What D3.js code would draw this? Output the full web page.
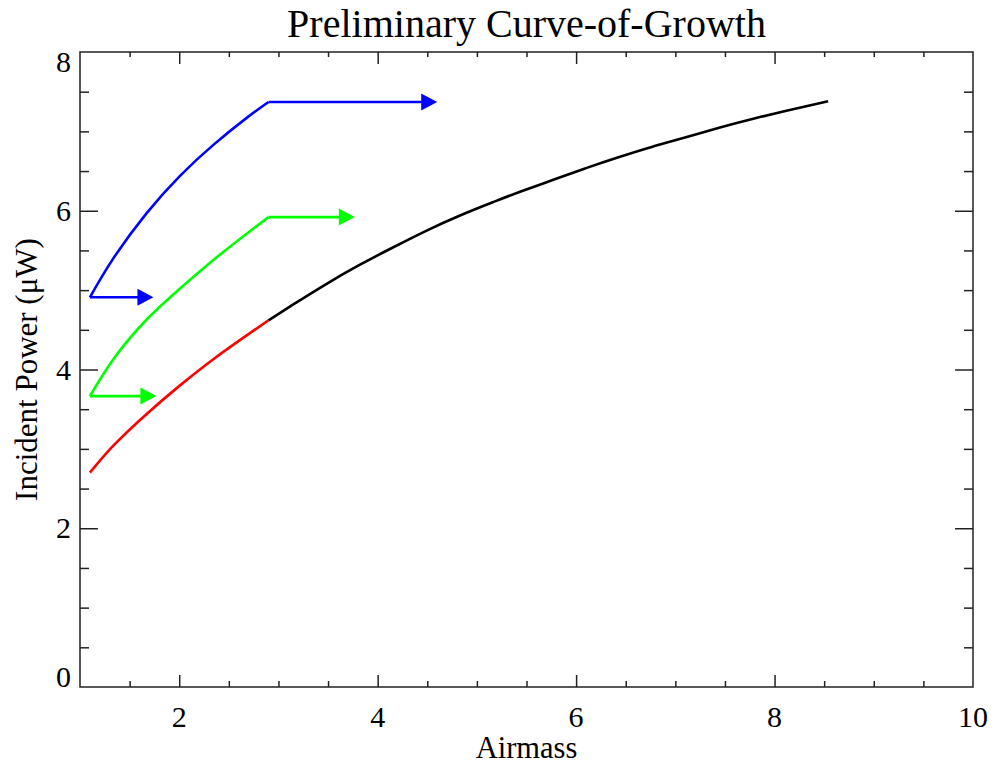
<!DOCTYPE html>
<html>
<head>
<meta charset="utf-8">
<script src="https://cdn.jsdelivr.net/npm/d3@7"></script>
<style>
  html, body { margin: 0; padding: 0; background: #fff; }
  svg { display: block; }
  text { font-family: "Liberation Serif", "Times New Roman", serif; fill: #000; }
</style>
</head>
<body>
<svg id="chart" width="995" height="766"></svg>
<script>
// Curve of growth: incident power vs. airmass
const redAirmass   = [1.10, 1.336, 1.672, 2.008, 2.344, 2.68, 2.90];
const redPower     = [2.70, 3.04, 3.44, 3.80, 4.13, 4.43, 4.62];

const blackAirmass = [2.90, 3.15, 3.486, 3.822, 4.158, 4.494, 4.83, 5.166, 5.435, 5.77, 6.107, 6.442, 6.778, 7.115, 7.45, 7.786, 8.12, 8.54];
const blackPower   = [4.62, 4.82, 5.08, 5.32, 5.54, 5.75, 5.94, 6.11, 6.24, 6.39, 6.54, 6.68, 6.81, 6.93, 7.05, 7.16, 7.26, 7.38];

const greenAirmass = [1.10, 1.336, 1.672, 2.008, 2.344, 2.68, 2.90];
const greenPower   = [3.665, 4.13, 4.63, 5.02, 5.38, 5.71, 5.92];

const blueAirmass  = [1.10, 1.336, 1.672, 2.008, 2.344, 2.68, 2.90];
const bluePower    = [4.91, 5.40, 5.97, 6.44, 6.83, 7.17, 7.37];

// Shift arrows: series, start airmass, tip airmass, power level
const arrowSeries  = ["blue", "green", "blue", "green"];
const arrowFrom    = [1.10, 1.10, 2.90, 2.90];
const arrowTo      = [1.74, 1.77, 4.60, 3.77];
const arrowPower   = [4.91, 3.665, 7.37, 5.92];

const xMajorTicks = [2, 4, 6, 8, 10];
const yMajorTicks = [0, 2, 4, 6, 8];

const titleText = "Preliminary Curve-of-Growth";
const xTitle = "Airmass";
const yTitle = "Incident Power (\u03BCW)";

const seriesColor = { red: "#ff0000", black: "#000000", green: "#00ff00", blue: "#0000ff" };

const svg = d3.select("#chart");
const plotLeft = 80, plotRight = 973, plotTop = 52, plotBottom = 687;

const x = d3.scaleLinear().domain([1, 10]).range([plotLeft, plotRight]);
const y = d3.scaleLinear().domain([0, 8]).range([plotBottom, plotTop]);

const xMinor = d3.range(1.5, 10, 0.5).filter(v => !xMajorTicks.includes(v));
const yMinor = d3.range(0.5, 8, 0.5).filter(v => !yMajorTicks.includes(v));

const axisColor = "#222";

// Frame ticks (drawn with d3 axes, labels handled separately)
function tickAxis(gen, pos, tickVals, len) {
  svg.append("g")
    .attr("transform", pos)
    .call(gen.tickValues(tickVals).tickSize(len).tickFormat(""))
    .call(g => g.select(".domain").remove())
    .call(g => g.selectAll("line").attr("stroke", axisColor).attr("stroke-width", 1.5));
}
tickAxis(d3.axisTop(x), `translate(0,${plotBottom})`, xMajorTicks.filter(v => v < 10), 12);
tickAxis(d3.axisTop(x), `translate(0,${plotBottom})`, xMinor, 6);
tickAxis(d3.axisBottom(x), `translate(0,${plotTop})`, xMajorTicks.filter(v => v < 10), 12);
tickAxis(d3.axisBottom(x), `translate(0,${plotTop})`, xMinor, 5);
tickAxis(d3.axisRight(y), `translate(${plotLeft},0)`, yMajorTicks.filter(v => v > 0 && v < 8), 18);
tickAxis(d3.axisRight(y), `translate(${plotLeft},0)`, yMinor, 9);
tickAxis(d3.axisLeft(y), `translate(${plotRight},0)`, yMajorTicks.filter(v => v > 0 && v < 8), 18);
tickAxis(d3.axisLeft(y), `translate(${plotRight},0)`, yMinor, 9);

// Plot frame
svg.append("rect")
  .attr("x", plotLeft).attr("y", plotTop)
  .attr("width", plotRight - plotLeft).attr("height", plotBottom - plotTop)
  .attr("fill", "none").attr("stroke", axisColor).attr("stroke-width", 1.5);

// Tick labels
const labelSize = 30;
svg.append("g").selectAll("text").data(xMajorTicks).join("text")
  .attr("x", d => x(d)).attr("y", 727)
  .attr("text-anchor", "middle").attr("font-size", labelSize)
  .text(d => d);

// y labels are centred on their tick, but kept inside the axis span
const halfH = 10;
svg.append("g").selectAll("text").data(yMajorTicks).join("text")
  .attr("x", 71)
  .attr("y", d => Math.min(Math.max(y(d), plotTop + halfH), plotBottom - halfH) + halfH)
  .attr("text-anchor", "end").attr("font-size", labelSize)
  .text(d => d);

// Titles
svg.append("text").attr("x", (plotLeft + plotRight) / 2).attr("y", 37)
  .attr("text-anchor", "middle").attr("font-size", 40).text(titleText);
svg.append("text").attr("x", (plotLeft + plotRight) / 2).attr("y", 758)
  .attr("text-anchor", "middle").attr("font-size", 30.5).text(xTitle);
svg.append("text").attr("transform", `translate(37,${(plotTop + plotBottom) / 2}) rotate(-90)`)
  .attr("text-anchor", "middle").attr("font-size", 31).text(yTitle);

// Curves
const line = d3.line().x(d => x(d[0])).y(d => y(d[1])).curve(d3.curveNatural);
const series = [
  ["red", redAirmass, redPower],
  ["black", blackAirmass, blackPower],
  ["green", greenAirmass, greenPower],
  ["blue", blueAirmass, bluePower]
];
series.forEach(([name, xs, ys]) => {
  svg.append("path")
    .datum(xs.map((v, i) => [v, ys[i]]))
    .attr("d", line)
    .attr("fill", "none")
    .attr("stroke", seriesColor[name])
    .attr("stroke-width", 2.6)
    .attr("stroke-linejoin", "round");
});

// Arrows
const headLen = 16, headHalf = 8.5;
arrowSeries.forEach((name, i) => {
  const x0 = x(arrowFrom[i]), x1 = x(arrowTo[i]), yy = y(arrowPower[i]);
  svg.append("line")
    .attr("x1", x0).attr("x2", x1 - headLen + 1)
    .attr("y1", yy).attr("y2", yy)
    .attr("stroke", seriesColor[name]).attr("stroke-width", 2.6);
  svg.append("path")
    .attr("d", `M${x1},${yy}L${x1 - headLen},${yy - headHalf}L${x1 - headLen},${yy + headHalf}Z`)
    .attr("fill", seriesColor[name]);
});
</script>
</body>
</html>
